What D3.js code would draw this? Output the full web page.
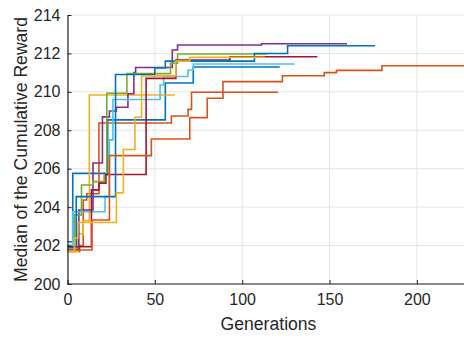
<!DOCTYPE html>
<html>
<head>
<meta charset="utf-8">
<script src="https://cdn.jsdelivr.net/npm/d3@7"></script>
<style>
  html, body { margin: 0; padding: 0; background: #fff; }
  svg { display: block; font-family: "Liberation Sans", Arial, Helvetica, sans-serif; }
</style>
</head>
<body>
<svg id="chart" width="464" height="340"></svg>
<script>
// Best-so-far median reward per run: [generation, reward] at each improvement.
const run1 = [[0,202.2],[3,205.76],[23,208.54],[56,210.46],[72,211.29],[121.5,211.29]];
const run2 = [[0,201.7],[7,202.0],[9,204.37],[11,204.7],[18,208.38],[59.5,208.74],[69,209.09],[71,209.98],[120.5,209.98]];
const run3 = [[0,201.7],[6,202.6],[9,203.3],[12.5,209.84],[61.5,209.84]];
const run4 = [[0,201.8],[6.5,203.85],[14.6,206.3],[20,208.7],[24,209.0],[28,209.2],[34.6,209.9],[38,211.0],[39,211.27],[60,212.18],[63,212.44],[111,212.5],[160,212.5]];
const run5 = [[0,202.0],[4,203.6],[8,205.15],[14.5,205.33],[21,205.67],[22.5,209.93],[34,210.95],[59,211.49],[63,211.97],[114,211.97]];
const run6 = [[0,202.0],[3,203.76],[21.5,204.55],[24,207.5],[26,209.6],[53,210.36],[55,210.8],[69,211.14],[72,211.45],[130,211.45]];
const run7 = [[0,201.94],[13.7,204.9],[18,205.25],[22,205.7],[45,210.7],[62,211.66],[93,211.83],[143,211.83]];
const run8 = [[0,201.9],[5,204.55],[27.5,210.9],[50,211.25],[56,211.6],[107,212.0],[126,212.4],[176,212.4]];
const run9 = [[0,201.77],[14,203.33],[24,206.68],[48,207.55],[70,208.66],[80,209.67],[89,210.53],[123,210.84],[147,211.0],[154,211.12],[180,211.36],[227,211.36]];
const run10 = [[0,201.7],[4,202.4],[6,203.2],[28,204.74],[32,207.0],[38.6,208.68],[42.4,210.83],[62,211.6],[70,211.8],[113,211.8]];

const runs = [run1, run2, run3, run4, run5, run6, run7, run8, run9, run10];
const runColors = ["#0072BD","#D95319","#EDB120","#7E2F8E","#77AC30","#4DBEEE","#A2142F","#0072BD","#D95319","#EDB120"];

const xTicks = [0, 50, 100, 150, 200];
const yTicks = [200, 202, 204, 206, 208, 210, 212, 214];
const xLabel = "Generations";
const yLabel = "Median of the Cumulative Reward";

const svg = d3.select("#chart");
const margin = { left: 67.5, right: 0, top: 15, bottom: 56 };
const W = 464, H = 340;

const x = d3.scaleLinear().domain([0, 227]).range([margin.left, W - margin.right]);
const y = d3.scaleLinear().domain([200, 214]).range([H - margin.bottom, margin.top]);

const axisColor = "#262626";
const gridColor = "#e3e3e3";

// grid
const grid = svg.append("g");
grid.selectAll("line.gx").data(xTicks).join("line")
  .attr("x1", d => x(d)).attr("x2", d => x(d))
  .attr("y1", y(200)).attr("y2", y(214))
  .attr("stroke", gridColor).attr("stroke-width", 1);
grid.selectAll("line.gy").data(yTicks).join("line")
  .attr("x1", x(0)).attr("x2", W)
  .attr("y1", d => y(d)).attr("y2", d => y(d))
  .attr("stroke", gridColor).attr("stroke-width", 1);

// step lines, one per run
const line = d3.line()
  .x(d => x(d[0]))
  .y(d => y(d[1]))
  .curve(d3.curveStepAfter);

svg.append("g").selectAll("path").data(runs).join("path")
  .attr("d", line)
  .attr("fill", "none")
  .attr("stroke", (d, i) => runColors[i])
  .attr("stroke-width", 1.6)
  .attr("stroke-linejoin", "miter");

// axes (ticks pointing inward)
const xAxis = d3.axisBottom(x).tickValues(xTicks).tickSizeInner(-4).tickSizeOuter(0).tickPadding(10);
const yAxis = d3.axisLeft(y).tickValues(yTicks).tickSizeInner(-4).tickSizeOuter(0).tickPadding(7);

const gx = svg.append("g").attr("transform", `translate(0,${y(200)})`).call(xAxis);
const gy = svg.append("g").attr("transform", `translate(${x(0)},0)`).call(yAxis);

[gx, gy].forEach(g => {
  g.select(".domain").attr("stroke", axisColor).attr("stroke-width", 1.2);
  g.selectAll(".tick line").attr("stroke", axisColor).attr("stroke-width", 1);
  g.selectAll(".tick text").attr("fill", axisColor).style("font-size", "16px")
    .style("font-family", "'Liberation Sans', Arial, sans-serif");
});
gx.select(".domain").attr("d", `M${x(0)},0H${W}`);

svg.append("text")
  .attr("x", 268.5)
  .attr("y", 330)
  .attr("text-anchor", "middle")
  .attr("fill", axisColor)
  .style("font-size", "17.6px")
  .text(xLabel);

svg.append("text")
  .attr("transform", `translate(27,${(y(200) + y(214)) / 2}) rotate(-90)`)
  .attr("text-anchor", "middle")
  .attr("fill", axisColor)
  .style("font-size", "17.6px")
  .text(yLabel);
</script>
</body>
</html>
